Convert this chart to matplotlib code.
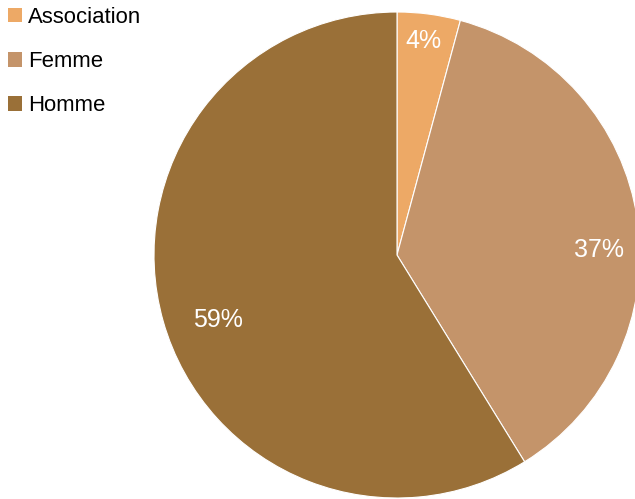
import matplotlib.pyplot as plt
from matplotlib.patches import Patch

# --- Data ---
labels = ["Association", "Femme", "Homme"]
values = [4.2, 37.0, 58.8]
colors = ["#EDA966", "#C4946A", "#9A7038"]

# small nudges of the % labels (axes data units), to mimic the original placement
label_nudge = [(0.0, 0.05), (0.0, -0.10), (0.07, -0.04)]

plt.rcParams["font.family"] = ["Liberation Sans", "DejaVu Sans"]

W, H = 635, 499
fig = plt.figure(figsize=(W / 100, H / 100), dpi=100)

# pie: centre ~ (397, 255) px, radius ~243 px
cx, cy, r = 397, 255, 243
ax = fig.add_axes([(cx - r) / W, (H - cy - r) / H, 2 * r / W, 2 * r / H])
wedges, texts, autotexts = ax.pie(
    values, colors=colors, startangle=90, counterclock=False,
    autopct="%1.0f%%", pctdistance=0.84, radius=1,
    wedgeprops=dict(edgecolor="white", linewidth=0.8),
    textprops=dict(color="white", fontsize=18),
)
for t, (dx, dy) in zip(autotexts, label_nudge):
    x, y = t.get_position()
    t.set_position((x + dx, y + dy))

ax.set_xlim(-1, 1)
ax.set_ylim(-1, 1)
ax.set_aspect("auto")
ax.axis("off")

handles = [Patch(facecolor=c, edgecolor="none") for c in colors]
fig.legend(handles, labels, loc="upper left", bbox_to_anchor=(8 / W, 1 - 7 / H),
           frameon=False, fontsize=15.9, borderpad=0, borderaxespad=0,
           handlelength=0.62, handleheight=0.62, handletextpad=0.3,
           labelspacing=1.05)

fig.savefig("out.png", dpi=100)
